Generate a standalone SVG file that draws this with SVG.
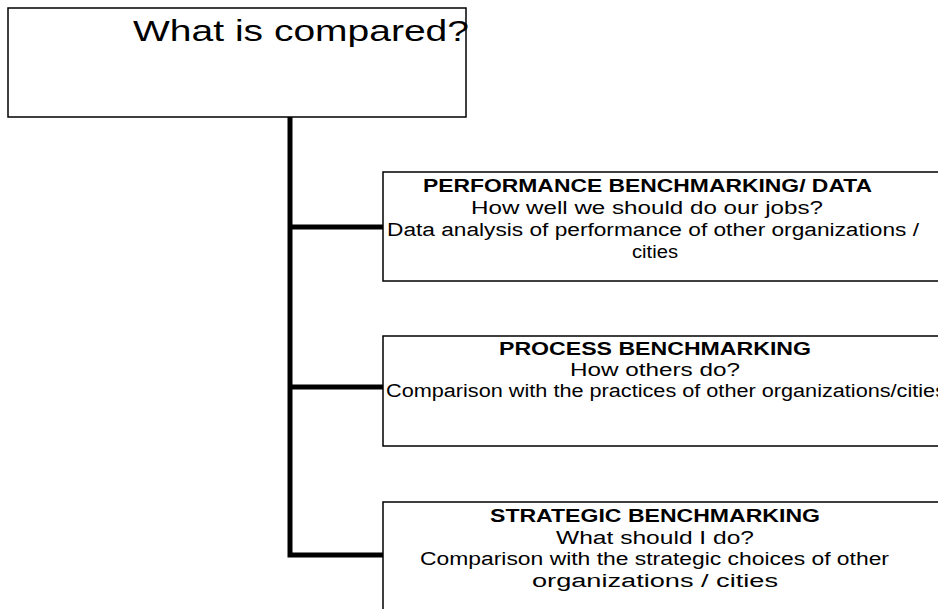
<svg xmlns="http://www.w3.org/2000/svg" width="938" height="609" viewBox="0 0 938 609">
<style>
.box{fill:#fff;stroke:#000;stroke-width:1.5}
.conn{stroke:#000;stroke-width:5;fill:none}
text{font-family:"Liberation Sans",Arial,sans-serif;fill:#000}
.t{font-size:18px}
.b{font-size:18px;font-weight:bold}
.title{font-size:30px;text-anchor:middle}
</style>
<rect width="938" height="609" fill="#fff"/>
<g id="connectors">
<path class="conn" d="M290 117 V555 H383"/>
<path class="conn" d="M290 227 H383"/>
<path class="conn" d="M290 387 H383"/>
</g>
<g id="root">
<rect class="box" x="8" y="8" width="458" height="109"/>
<text class="title" transform="matrix(1.3,0,0,1,301,41)">What is compared?</text>
</g>
<g id="performance">
<rect class="box" x="383" y="172" width="560" height="109"/>
<text class="b" x="423" y="192" textLength="449" lengthAdjust="spacingAndGlyphs">PERFORMANCE BENCHMARKING/ DATA</text>
<text class="t" x="471" y="214" textLength="352" lengthAdjust="spacingAndGlyphs">How well we should do our jobs?</text>
<text class="t" x="387" y="236" textLength="532" lengthAdjust="spacingAndGlyphs">Data analysis of performance of other organizations /</text>
<text class="t" x="632" y="258" textLength="46" lengthAdjust="spacingAndGlyphs">cities</text>
</g>
<g id="process">
<rect class="box" x="383" y="336" width="560" height="110"/>
<text class="b" x="499" y="355" textLength="312" lengthAdjust="spacingAndGlyphs">PROCESS BENCHMARKING</text>
<text class="t" x="570" y="376" textLength="170" lengthAdjust="spacingAndGlyphs">How others do?</text>
<text class="t" x="386" y="397" textLength="560" lengthAdjust="spacingAndGlyphs">Comparison with the practices of other organizations/cities</text>
</g>
<g id="strategic">
<rect class="box" x="383" y="502" width="560" height="120"/>
<text class="b" x="490" y="522" textLength="330" lengthAdjust="spacingAndGlyphs">STRATEGIC BENCHMARKING</text>
<text class="t" x="556" y="544" textLength="198" lengthAdjust="spacingAndGlyphs">What should I do?</text>
<text class="t" x="420" y="565" textLength="469" lengthAdjust="spacingAndGlyphs">Comparison with the strategic choices of other</text>
<text class="t" x="532" y="587" textLength="246" lengthAdjust="spacingAndGlyphs">organizations / cities</text>
</g>
</svg>
